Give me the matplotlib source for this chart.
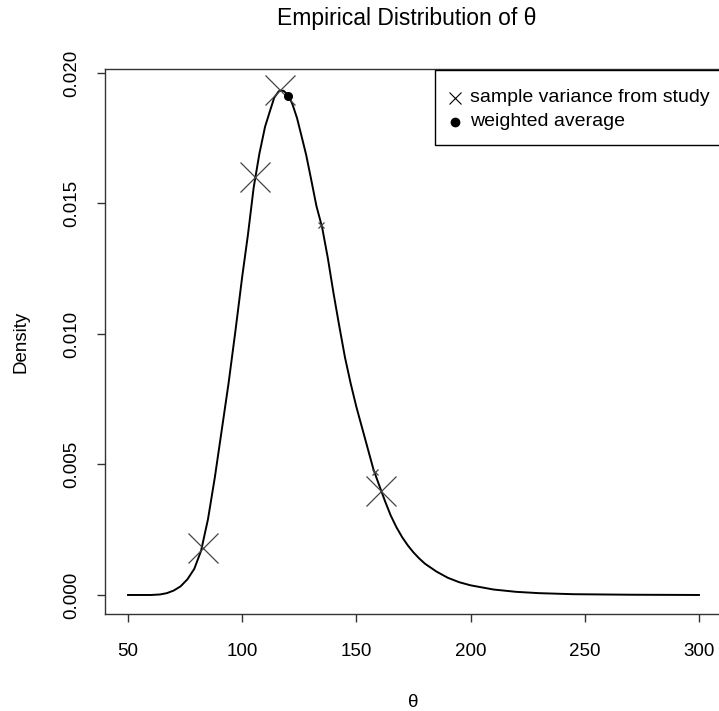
import matplotlib
matplotlib.use("Agg")
import matplotlib.pyplot as plt
from matplotlib.patches import Rectangle

plt.rcParams['font.family'] = ['Liberation Sans', 'DejaVu Sans']

# density curve
theta = [50, 60, 64, 67, 70, 73, 76, 79, 82, 85, 88, 91, 94, 97, 100, 102.5,
         105, 107.5, 110, 112, 114, 116, 118, 120, 122, 124, 126, 128, 130,
         132.5, 135, 137.5, 140, 142.5, 145, 147.5, 150, 152.5, 155, 157.5,
         160, 162.5, 165, 167.5, 170, 172.5, 175, 177.5, 180, 185, 190, 195,
         200, 210, 220, 230, 245, 270, 300]
density = [0.0, 0.0, 0.00002, 0.00007, 0.00017, 0.00033, 0.0006, 0.0010,
           0.0017, 0.0029, 0.0045, 0.0063, 0.0081, 0.0101, 0.0122, 0.0138,
           0.0156, 0.0169, 0.01794, 0.0185, 0.01905, 0.0193, 0.01932, 0.01917,
           0.0188, 0.01827, 0.01757, 0.01686, 0.0160, 0.0149, 0.01408, 0.0129,
           0.01155, 0.0103, 0.0091, 0.0081, 0.0072, 0.0064, 0.0056, 0.0048,
           0.0042, 0.0036, 0.00305, 0.0026, 0.00222, 0.0019, 0.00163, 0.0014,
           0.0012, 0.0009, 0.00066, 0.00049, 0.00037, 0.00021, 0.00012,
           0.00007, 0.00003, 0.00001, 0.0]

# sample variances from each study
study_theta = [82.8, 105.6, 116.5, 134.7, 158.3, 160.6]
study_density = [0.0018, 0.0160, 0.01935, 0.01418, 0.0047, 0.0040]
study_size = [22, 22, 22, 5, 5, 22]

# weighted average
avg_theta = [120.2]
avg_density = [0.01912]

legend_labels = ['sample variance from study', 'weighted average']

W, H = 719, 711
fig = plt.figure(figsize=(W / 100, H / 100), dpi=100)
ax = fig.add_axes([105.2 / W, 96.7 / H, 616.6 / W, 545.8 / H])

ax.plot(theta, density, color='black', lw=1.4)
for t, d, s in zip(study_theta, study_density, study_size):
    ax.plot(t, d, marker='x', ms=s, mew=0.9, color='#444444', ls='none')
ax.plot(avg_theta, avg_density, 'o', color='black', ms=5.5)

ax.set_xlim(40, 310)
ax.set_ylim(-0.00074, 0.02017)
ax.set_xticks([50, 100, 150, 200, 250, 300])
ax.set_yticks([0.000, 0.005, 0.010, 0.015, 0.020])
ax.set_yticklabels(['0.000', '0.005', '0.010', '0.015', '0.020'], rotation=90, va='center')
ax.tick_params(labelsize=13.5, length=6, width=1, color='#333333')
ax.tick_params(axis='x', pad=15)
ax.tick_params(axis='y', pad=12)
for sp in ax.spines.values():
    sp.set_color('#333333')
    sp.set_linewidth(1.0)

ax.set_xlabel('θ', fontsize=13.5, labelpad=24)
ax.set_ylabel('Density', fontsize=13.5, labelpad=24)
fig.text(407 / W, 1 - 19 / H, 'Empirical Distribution of θ', fontsize=16.5,
         ha='center', va='center')


def px(x, y):
    # pixel position (from top-left) -> figure fraction
    return x / W, 1 - y / H


# legend box in the top-right corner, R style
x0, y0 = px(435, 70)
x1, y1 = px(725, 145)
fig.patches.append(Rectangle((x0, y1), x1 - x0, y0 - y1, transform=fig.transFigure,
                             facecolor='white', edgecolor='black', lw=1.0, zorder=5))
mx, my1 = px(455, 98)
_, my2 = px(455, 122)
fig.add_artist(plt.Line2D([mx], [my1], marker='x', ms=8, mew=0.8, color='black',
                          transform=fig.transFigure, zorder=6))
fig.add_artist(plt.Line2D([mx], [my2], marker='o', ms=6, color='black',
                          transform=fig.transFigure, zorder=6))
tx, _ = px(470, 0)
for lab, yy in zip(legend_labels, [my1, my2]):
    fig.text(tx, yy, lab, fontsize=14, ha='left', va='center', zorder=6)

fig.savefig('out.png', dpi=100)
